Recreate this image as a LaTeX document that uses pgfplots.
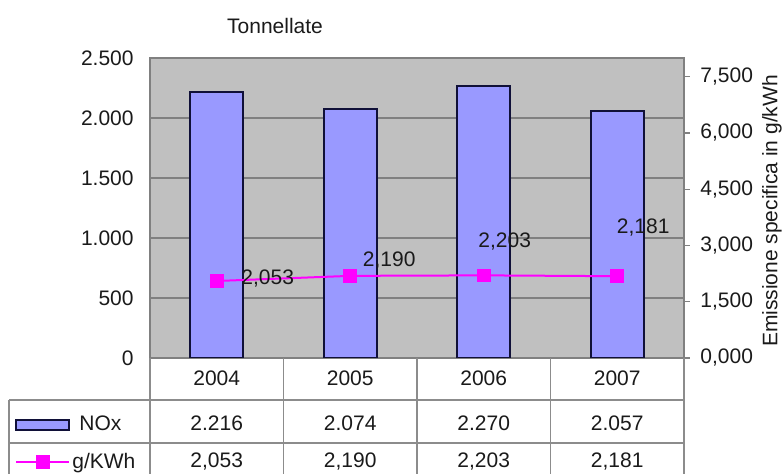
\documentclass[border=0pt]{standalone}
\usepackage{pgfplots}
\pgfplotsset{compat=1.18}
\usepackage{pgfplotstable}
\usepackage{fontspec}
\setmainfont{Liberation Sans}
\definecolor{plotbg}{HTML}{C0C0C0}
\definecolor{barfill}{HTML}{9999FF}
\definecolor{baredge}{HTML}{101038}
\definecolor{gridc}{HTML}{808080}
\definecolor{magline}{HTML}{FF00FF}
\definecolor{tabline}{HTML}{8C8C8C}
\definecolor{txt}{HTML}{1A1A1A}

\pgfplotstableread{
x y
0 2216
1 2074
2 2270
3 2057
}\noxdata

\pgfplotstableread{
x y lab dx dy
0 2.053 2,053 25.5 1
1 2.190 2,190 19.5 7.5
2 2.203 2,203 10.5 17
3 2.181 2,181 13 24.5
}\gdata

\begin{document}
\fontsize{10.5}{12.6}\selectfont
\begin{tikzpicture}
\path[use as bounding box] (0,0) rectangle (392pt,237pt);

\begin{axis}[
  at={(75pt,58pt)}, anchor=south west,
  width=267pt, height=150pt, scale only axis,
  xmin=-0.5, xmax=3.5, ymin=0, ymax=2500,
  xtick=\empty,
  ytick={0,500,1000,1500,2000,2500},
  yticklabels={0,500,1.000,1.500,2.000,2.500},
  major tick length=0pt,
  yticklabel style={xshift=-4.5pt, text=txt},
  ymajorgrids, grid style={draw=gridc, line width=0.7pt},
  axis line style={draw=gridc, line width=0.7pt},
  axis background/.style={fill=plotbg},
  ybar, bar width=26.5pt,
  legend style={draw=none, fill=none, inner sep=0pt, at={(-0.2528,-0.2233)}, anchor=west,
    nodes={inner sep=0pt, text=txt}, /tikz/every odd column/.append style={column sep=4.5pt}},
  legend image code/.code={\draw[#1] (0pt,-2.5pt) rectangle (26.5pt,2.5pt);},
]
\addplot[fill=barfill, draw=baredge, line width=1pt] table[x=x,y=y] {\noxdata};
\addlegendentry{NOx}
\end{axis}

\begin{axis}[
  at={(75pt,58pt)}, anchor=south west,
  width=267pt, height=150pt, scale only axis,
  xmin=-0.5, xmax=3.5, ymin=0, ymax=8,
  axis x line=none, axis y line*=right,
  ytick={0,1.5,3,4.5,6,7.5},
  yticklabels={{0,000},{1,500},{3,000},{4,500},{6,000},{7,500}},
  tick align=outside, major tick length=3pt,
  ytick style={draw=gridc, line width=0.6pt},
  y axis line style={draw=gridc, line width=0.7pt},
  yticklabel style={xshift=1.5pt, text=txt},
  legend style={draw=none, fill=none, inner sep=0pt, at={(-0.2528,-0.3467)}, anchor=west,
    nodes={inner sep=0pt, text=txt}, /tikz/every odd column/.append style={column sep=1pt}},
  legend image code/.code={\draw[mark repeat=2,mark phase=2,#1] plot coordinates {(0pt,0pt) (13.25pt,0pt) (26.5pt,0pt)};},
]
\addplot[color=magline, line width=1pt, mark=square*, mark size=2.9pt,
  mark options={fill=magline, draw=magline},
  nodes near coords, point meta=explicit symbolic,
  visualization depends on={\thisrow{dx} \as \dx},
  visualization depends on={\thisrow{dy} \as \dy},
  every node near coord/.append style={anchor=center, xshift=\dx pt, yshift=\dy pt, text=txt}]
  table[x=x, y=y, meta=lab] {\gdata};
\addlegendentry{g/KWh}
\end{axis}

% title and right label
\node[text=txt] at (137.5pt,224pt) {Tonnellate};
\node[text=txt, rotate=90] at (386pt,131.5pt) {Emissione specifica in g/kWh};

% data table grid
\draw[tabline, line width=0.6pt] (4.5pt,37pt) -- (342pt,37pt);
\draw[tabline, line width=0.6pt] (4.5pt,15.5pt) -- (342pt,15.5pt);
\draw[tabline, line width=0.6pt] (4.5pt,37pt) -- (4.5pt,0pt);
\foreach \xx in {75,141.75,208.5,275.25,342} {
  \draw[tabline, line width=0.6pt] (\xx pt,58pt) -- (\xx pt,0pt);
}
% table text
\foreach \xx/\yr/\va/\vb in {108.375/2004/2.216/{2,053}, 175.125/2005/2.074/{2,190}, 241.875/2006/2.270/{2,203}, 308.625/2007/2.057/{2,181}} {
  \node[text=txt] at (\xx pt,48pt) {\yr};
  \node[text=txt] at (\xx pt,25.5pt) {\va};
  \node[text=txt] at (\xx pt,6pt) {\vb};
}
\end{tikzpicture}
\end{document}
